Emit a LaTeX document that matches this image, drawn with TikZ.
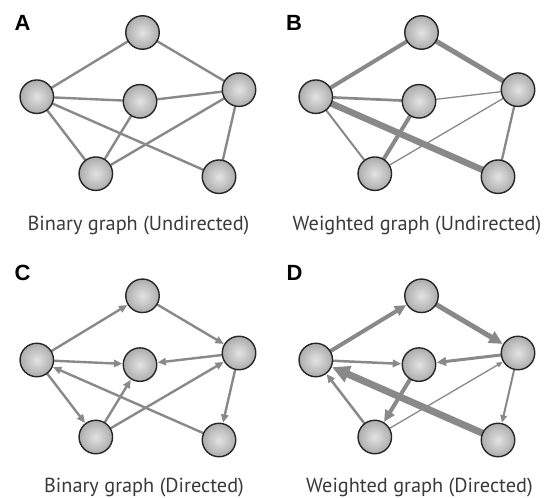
\documentclass[tikz,border=0pt]{standalone}
\usepackage{fontspec}
\setmainfont{PT Sans}
\newfontfamily\panelfont{Liberation Sans}
\usetikzlibrary{arrows.meta,backgrounds}

\definecolor{edgegray}{HTML}{898989}
\definecolor{rim}{HTML}{262626}
\definecolor{captiongray}{HTML}{3A3A3A}

% the six vertices shared by every panel
\newcommand\sixvertices[1]{%
  \node[vertex] (#1t) at (142.5,32.5) {};
  \node[vertex] (#1l) at (36.8,96.7) {};
  \node[vertex] (#1m) at (140,101.3) {};
  \node[vertex] (#1r) at (239,89.7) {};
  \node[vertex] (#1p) at (95.8,173.7) {};
  \node[vertex] (#1q) at (219,176.7) {};
}

\begin{document}
\begin{tikzpicture}[x=1pt,y=-1pt,
  vertex/.style={circle, draw=rim, line width=1.4pt, minimum size=33.5pt,
    inner sep=0pt, inner color=gray!22, outer color=gray!65},
  uedge/.style={draw=edgegray, line width=#1},
  uedge/.default=2.4pt,
  dedge/.style={draw=edgegray, fill=edgegray, line width=#1,
    -{Triangle[length=3.5pt 2, width=2.5pt 2]}, shorten >=0.3pt},
  dedge/.default=2.4pt,
  caption/.style={text=captiongray, font=\fontsize{20.3}{24}\selectfont},
  panel/.style={text=black, font=\panelfont\bfseries\fontsize{22}{22}\selectfont}
]
\useasboundingbox (0,0) rectangle (545,497);

% A: binary, undirected
\begin{scope}
  \sixvertices{a}
  \begin{pgfonlayer}{background}
    \draw[uedge] (at.center) -- (al.center);
    \draw[uedge] (at.center) -- (ar.center);
    \draw[uedge] (al.center) -- (am.center);
    \draw[uedge] (am.center) -- (ar.center);
    \draw[uedge] (al.center) -- (ap.center);
    \draw[uedge] (al.center) -- (aq.center);
    \draw[uedge] (am.center) -- (ap.center);
    \draw[uedge] (ap.center) -- (ar.center);
    \draw[uedge] (ar.center) -- (aq.center);
  \end{pgfonlayer}
\end{scope}

% B: weighted, undirected
\begin{scope}[shift={(279,0)}]
  \sixvertices{b}
  \begin{pgfonlayer}{background}
    \draw[uedge=4pt]   (bt.center) -- (bl.center);
    \draw[uedge=5pt]   (bt.center) -- (br.center);
    \draw[uedge=2.7pt] (bl.center) -- (bm.center);
    \draw[uedge=1.3pt] (bm.center) -- (br.center);
    \draw[uedge=2pt]   (bl.center) -- (bp.center);
    \draw[uedge=6.5pt] (bl.center) -- (bq.center);
    \draw[uedge=4pt]   (bm.center) -- (bp.center);
    \draw[uedge=1.3pt] (bp.center) -- (br.center);
    \draw[uedge=2.3pt] (br.center) -- (bq.center);
  \end{pgfonlayer}
\end{scope}

% C: binary, directed
\begin{scope}[shift={(0,263.3)}]
  \sixvertices{c}
  \begin{pgfonlayer}{background}
    \draw[dedge] (cl.center) -- (ct);
    \draw[dedge] (ct.center) -- (cr);
    \draw[dedge] (cl.center) -- (cm);
    \draw[dedge] (cr.center) -- (cm);
    \draw[dedge] (cl.center) -- (cp);
    \draw[dedge] (cp.center) -- (cm);
    \draw[dedge] (cp.center) -- (cr);
    \draw[dedge] (cq.center) -- (cl);
    \draw[dedge] (cr.center) -- (cq);
  \end{pgfonlayer}
\end{scope}

% D: weighted, directed
\begin{scope}[shift={(279,263.3)}]
  \sixvertices{d}
  \begin{pgfonlayer}{background}
    \draw[dedge=4pt]   (dl.center) -- (dt);
    \draw[dedge=5pt]   (dt.center) -- (dr);
    \draw[dedge=2.5pt] (dl.center) -- (dm);
    \draw[dedge=3pt]   (dr.center) -- (dm);
    \draw[dedge=2.5pt] (dp.center) -- (dl);
    \draw[dedge=4pt]   (dm.center) -- (dp);
    \draw[dedge=1.3pt] (dp.center) -- (dr);
    \draw[dedge=7pt]   (dq.center) -- (dl);
    \draw[dedge=2pt]   (dr.center) -- (dq);
  \end{pgfonlayer}
\end{scope}

% panel letters
\node[panel] (labA) at (22.5,22.5) {A};
\node[panel] (labB) at (294,22.5) {B};
\node[panel] (labC) at (22.5,273) {C};
\node[panel] (labD) at (294.5,273) {D};

% captions
\node[caption] (capA) at (138.5,226) {Binary graph (Undirected)};
\node[caption] (capB) at (417,226) {Weighted graph (Undirected)};
\node[caption] (capC) at (144,487) {Binary graph (Directed)};
\node[caption] (capD) at (419.5,487) {Weighted graph (Directed)};
\end{tikzpicture}
\end{document}
